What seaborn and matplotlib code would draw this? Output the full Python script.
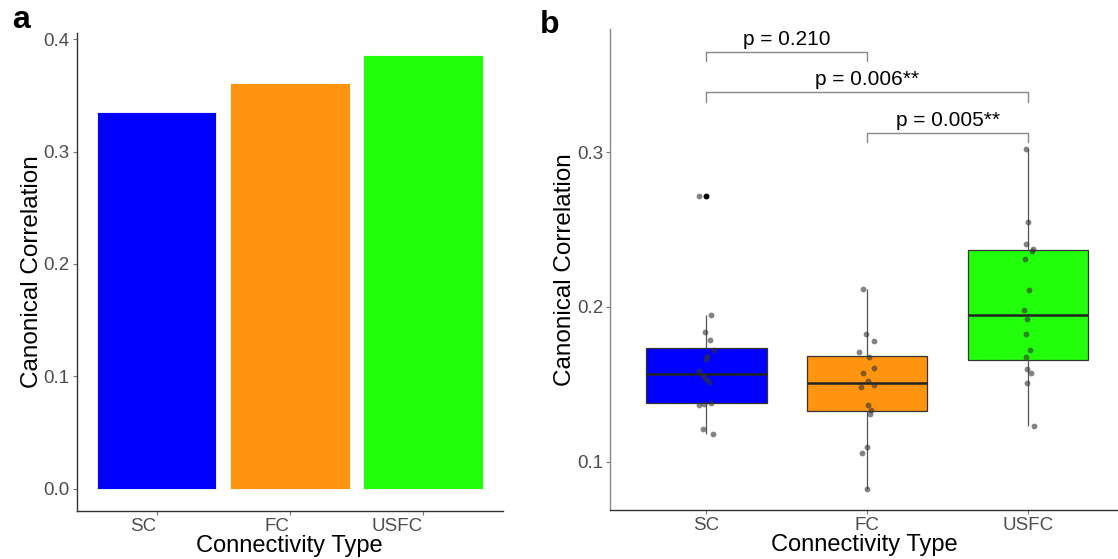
import numpy as np
import pandas as pd
import seaborn as sns
import matplotlib.pyplot as plt

# categories and colours
types = ["SC", "FC", "USFC"]
colors = ["#0000FF", "#FE9410", "#21FF0A"]

# panel a: canonical correlation per connectivity type
bar_vals = [0.3356, 0.3608, 0.3859]

# panel b: canonical correlations per fold / subject split
sc_vals = [0.2716, 0.1946, 0.1836, 0.1789, 0.1720, 0.1681, 0.1662, 0.1586,
           0.1552, 0.1537, 0.1517, 0.1381, 0.1372, 0.1365, 0.1213, 0.1179]
fc_vals = [0.2116, 0.1825, 0.1778, 0.1711, 0.1675, 0.1608, 0.1575, 0.1520,
           0.1496, 0.1481, 0.1366, 0.1336, 0.1306, 0.1097, 0.1058, 0.0825]
usfc_vals = [0.3021, 0.2548, 0.2409, 0.2377, 0.2362, 0.2308, 0.2108, 0.1979,
             0.1920, 0.1825, 0.1724, 0.1677, 0.1597, 0.1571, 0.1509, 0.1231]

# significance brackets (pair index, y of bar, label)
pairs = [(0, 1), (0, 2), (1, 2)]
bracket_y = [0.3650, 0.3388, 0.3127]
p_labels = ["p = 0.210", "p = 0.006**", "p = 0.005**"]

sns.set_style("white")
plt.rcParams["font.family"] = ["Liberation Sans", "DejaVu Sans"]
plt.rcParams["text.color"] = "black"
plt.rcParams["axes.labelcolor"] = "black"

tick_col = "#4D4D4D"

fig = plt.figure(figsize=(11.18, 5.59), dpi=100)

# ---------------- panel a ----------------
ax1 = fig.add_axes([0.0686, 0.0864, 0.4496 - 0.0686, 0.9404 - 0.0864])
sns.barplot(x=types, y=bar_vals, hue=types, palette=colors, saturation=1,
            width=0.9, edgecolor="white", linewidth=0.6, legend=False, ax=ax1)
ax1.set_xlim(-0.6, 2.6)
ax1.set_ylim(-0.0196, 0.4053)
ax1.set_yticks([0.0, 0.1, 0.2, 0.3, 0.4])
ax1.set_yticklabels(["0.0", "0.1", "0.2", "0.3", "0.4"])
ax1.set_xlabel("Connectivity Type", fontsize=17, labelpad=0)
ax1.set_ylabel("Canonical Correlation", fontsize=17.5, labelpad=0.5)
for lbl in ax1.get_xticklabels():
    lbl.set_ha("right")

# ---------------- panel b ----------------
df = pd.DataFrame({
    "type": ["SC"] * len(sc_vals) + ["FC"] * len(fc_vals) + ["USFC"] * len(usfc_vals),
    "value": sc_vals + fc_vals + usfc_vals,
})

ax2 = fig.add_axes([0.5456, 0.0877, 1.0 - 0.5456, 0.9476 - 0.0877])
sns.boxplot(data=df, x="type", y="value", hue="type", order=types,
            palette=colors, saturation=1, width=0.75, legend=False,
            linecolor="#333333", linewidth=0.9, showcaps=False,
            whiskerprops={"color": "#555555"},
            medianprops={"color": "#222222", "linewidth": 1.8},
            flierprops={"marker": "o", "markersize": 3.2,
                        "markerfacecolor": "black", "markeredgecolor": "black"},
            ax=ax2)
np.random.seed(7)
sns.stripplot(data=df, x="type", y="value", order=types, color="#333333",
              alpha=0.6, size=4.2, jitter=0.05, linewidth=0, ax=ax2)

for (i, j), yb, lab in zip(pairs, bracket_y, p_labels):
    ax2.plot([i, i, j, j], [yb - 0.0061, yb, yb, yb - 0.0061],
             color="#888888", linewidth=1.0, clip_on=False)
    ax2.text((i + j) / 2, yb + 0.0044, lab, ha="center", va="baseline",
             fontsize=15, color="black")

ax2.set_xlim(-0.599, 2.56)
ax2.set_ylim(0.0688, 0.3795)
ax2.set_yticks([0.1, 0.2, 0.3])
ax2.set_yticklabels(["0.1", "0.2", "0.3"])
ax2.set_xlabel("Connectivity Type", fontsize=17, labelpad=0)
ax2.set_ylabel("Canonical Correlation", fontsize=17.5, labelpad=0.5)

# shared styling
for ax, lcol in [(ax1, "#333333"), (ax2, "#888888")]:
    sns.despine(ax=ax)
    ax.spines["left"].set_color(lcol)
    ax.spines["bottom"].set_color("#333333")
    ax.spines["left"].set_linewidth(1.0)
    ax.spines["bottom"].set_linewidth(1.0)
    ax.tick_params(axis="both", which="major", length=3, width=0.8,
                   color="#777777", labelsize=13.5, labelcolor=tick_col,
                   pad=2, left=True, bottom=True)

fig.text(12 / 1118, 1 - 28 / 559, "a", fontsize=23, fontweight="bold",
         ha="left", va="baseline", color="black")
fig.text(540 / 1118, 1 - 33 / 559, "b", fontsize=23, fontweight="bold",
         ha="left", va="baseline", color="black")

fig.savefig("out.png", dpi=100)
